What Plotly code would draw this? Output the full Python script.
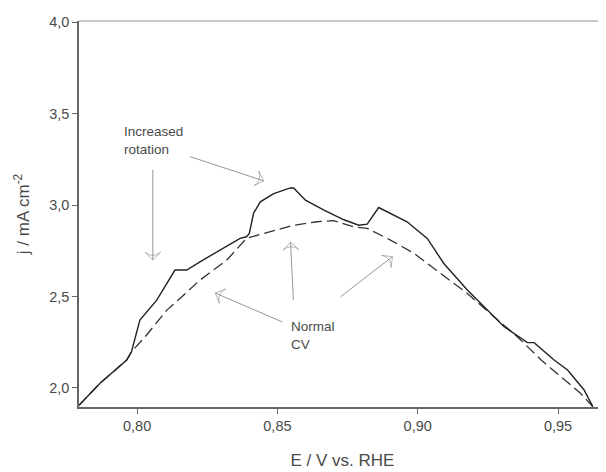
import plotly.graph_objects as go

# Increased rotation (solid)
rot_E = [0.7793, 0.7868, 0.7963, 0.7980, 0.8010, 0.8070, 0.8135, 0.8177, 0.8224,
         0.8367, 0.8390, 0.8400, 0.8415, 0.8439, 0.8487, 0.8546, 0.8558, 0.8600,
         0.8666, 0.8737, 0.8790, 0.8820, 0.8861, 0.8962, 0.9034, 0.9093, 0.9177,
         0.9248, 0.9308, 0.9391, 0.9415, 0.9486, 0.9534, 0.9593, 0.9624]
rot_j = [1.905, 2.026, 2.153, 2.198, 2.372, 2.480, 2.645, 2.645, 2.690,
         2.818, 2.827, 2.845, 2.955, 3.018, 3.063, 3.094, 3.094, 3.027,
         2.973, 2.920, 2.890, 2.896, 2.987, 2.909, 2.818, 2.681, 2.536,
         2.426, 2.335, 2.248, 2.248, 2.153, 2.098, 1.989, 1.898]

# Normal CV (dashed)
cv_E = [0.7793, 0.7868, 0.7963, 0.7980, 0.8034, 0.8058, 0.8106, 0.8153, 0.8224,
        0.8320, 0.8390, 0.8451, 0.8558, 0.8641, 0.8700, 0.8772, 0.8820, 0.8903,
        0.8987, 0.9081, 0.9177, 0.9272, 0.9355, 0.9440, 0.9522, 0.9580, 0.9624]
cv_j = [1.905, 2.026, 2.153, 2.198, 2.290, 2.335, 2.426, 2.490, 2.590,
        2.700, 2.818, 2.845, 2.890, 2.909, 2.915, 2.881, 2.873, 2.809,
        2.736, 2.627, 2.517, 2.390, 2.280, 2.153, 2.044, 1.971, 1.898]

x_ticks = [0.80, 0.85, 0.90, 0.95]
y_ticks = [2.0, 2.5, 3.0, 3.5, 4.0]

# arrows: (tail E, tail j, head E, head j)
arrows = [
    (0.8056, 3.192, 0.8056, 2.700),
    (0.8189, 3.265, 0.8451, 3.133),
    (0.8518, 2.361, 0.8279, 2.519),
    (0.8557, 2.481, 0.8547, 2.798),
    (0.8725, 2.499, 0.8910, 2.718),
]

FONT = "Liberation Sans, Arial, sans-serif"
GREY = "#4a4a4a"
ARROW = "#8a8a8a"

fig = go.Figure()
fig.add_trace(go.Scatter(x=cv_E, y=cv_j, mode="lines",
                         line=dict(color="#333333", width=1.3, dash="11px,5px"),
                         showlegend=False, hoverinfo="skip"))
fig.add_trace(go.Scatter(x=rot_E, y=rot_j, mode="lines",
                         line=dict(color="#222222", width=1.4),
                         showlegend=False, hoverinfo="skip"))

for tx, ty, hx, hy in arrows:
    fig.add_trace(go.Scatter(
        x=[tx, hx], y=[ty, hy], mode="lines+markers",
        line=dict(color=ARROW, width=0.9),
        marker=dict(symbol=["circle", "arrow-wide-open"], size=[0, 11],
                    angleref="previous", color=ARROW,
                    line=dict(color=ARROW, width=0.9)),
        showlegend=False, hoverinfo="skip"))

fig.add_annotation(x=0.7947, y=3.455, text="Increased<br>rotation", showarrow=False,
                   xanchor="left", yanchor="top", align="left",
                   font=dict(family=FONT, size=13.5, color=GREY))
fig.add_annotation(x=0.8540, y=2.390, text="Normal<br>CV", showarrow=False,
                   xanchor="left", yanchor="top", align="left",
                   font=dict(family=FONT, size=13.5, color=GREY))

# light top border
fig.add_shape(type="line", xref="paper", yref="paper", x0=0, x1=1, y0=1, y1=1,
              line=dict(color="#c8c8c8", width=2))

# page body has an 8px default margin; margins compensate for it
fig.update_layout(
    width=606, height=472,
    margin=dict(l=71, r=8, t=13, b=73),
    paper_bgcolor="white", plot_bgcolor="white",
    separators=",.",
    font=dict(family=FONT, color=GREY),
)
fig.update_xaxes(range=[0.7793, 0.9671], tickvals=x_ticks, tickformat=".2f",
                 automargin=False,
                 showgrid=False, zeroline=False, showline=True, linecolor="#666666",
                 linewidth=1.5, ticks="outside", ticklen=5, tickcolor="#666666",
                 tickfont=dict(family=FONT, size=14.5, color=GREY),
                 title=dict(text="E / V vs. RHE", standoff=21,
                            font=dict(family=FONT, size=17, color=GREY)))
fig.update_yaxes(range=[1.896, 4.007], tickvals=y_ticks, tickformat=".1f",
                 automargin=False,
                 showgrid=False, zeroline=False, showline=True, linecolor="#666666",
                 linewidth=1.5, ticks="outside", ticklen=5, tickcolor="#666666",
                 tickfont=dict(family=FONT, size=14.5, color=GREY),
                 title=dict(text="j / mA cm<sup>-2</sup>", standoff=15,
                            font=dict(family=FONT, size=17, color=GREY)))

fig.write_html("out.html")
